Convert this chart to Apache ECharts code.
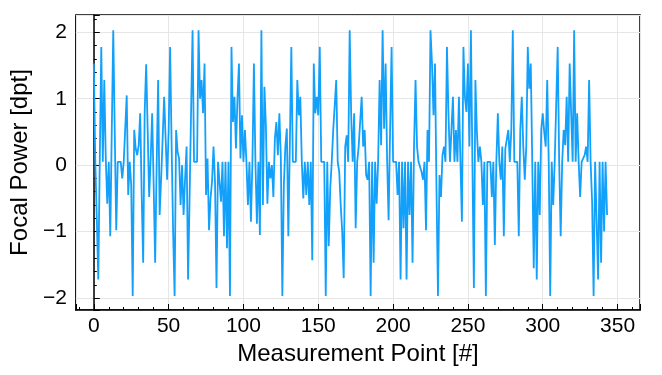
<!DOCTYPE html>
<html>
<head>
<meta charset="utf-8">
<script src="https://cdn.jsdelivr.net/npm/echarts@6/dist/echarts.min.js"></script>
<style>
  html, body { margin: 0; padding: 0; background: #fff; }
  #chart { width: 662px; height: 375px; }
</style>
</head>
<body>
<div id="chart"></div>
<script>
// focal power per measurement point (index = point number)
const focalPower = [
  1.53, 0.05, -0.8, -1.72, 0.1, 1.78, 0.05, 1.28, 0.1, -0.58,
  0.05, -1.07, 0.5, 2.03, 0.5, -0.98, 0.05, 0.05, 0.05, -0.2,
  0.05, 0.05, 1.05, -0.45, 0.05, -0.3, -1.97, 0.53, 0.25, 0.15,
  0.3, 0.78, -0.45, -1.47, 0.8, 1.52, 0.53, -0.48, 0.1, 0.78,
  -0.3, -1.47, 0.0, 1.28, -0.75, -0.2, 0.4, 1.03, 0.4, -0.22,
  0.5, 1.78, 0.3, -1.0, -1.97, 0.53, 0.2, 0.1, -0.6, 0.0,
  -0.75, -0.2, 0.28, -1.72, -0.5, 0.8, 2.03, 0.05, 0.05, 0.05,
  2.03, 1.0, 1.28, 0.78, 1.53, -0.45, 0.1, -0.98, -0.5, -0.25,
  0.28, -0.25, -1.85, 0.05, 0.05, -0.55, 0.05, -1.07, 0.05, -1.25,
  0.05, -1.97, 1.78, 0.65, 1.03, 0.25, 1.0, 1.53, 0.1, 0.75,
  0.05, 0.53, 0.05, -0.6, 0.05, -0.85, 0.05, 1.53, 0.05, -0.88,
  0.05, -1.05, 2.03, -0.6, 1.18, 0.6, -0.58, 0.05, -0.2, 0.0,
  -0.48, 0.4, 0.65, 0.15, 0.78, 0.1, -1.97, -0.3, 0.28, 0.55,
  -1.07, 0.3, 1.78, 0.05, 0.05, 0.05, 1.28, 0.75, 1.03, 0.05,
  -0.5, 0.05, -0.45, 0.05, -0.6, 0.05, -1.43, 1.53, 0.78, 1.03,
  0.75, 1.78, 0.05, 0.05, 0.05, -1.97, 0.05, -1.22, -0.35, 0.05,
  0.53, 0.9, 1.28, 0.05, -0.1, -0.6, -1.0, -1.7, 0.28, 0.45,
  0.05, 2.03, 0.75, 0.05, 0.78, -0.95, 0.05, 0.28, 0.28, 1.03,
  0.28, 0.53, -0.15, -0.22, 0.05, -1.97, 0.05, -1.47, 0.05, -0.58,
  0.05, 1.28, 0.3, 2.03, 0.55, 1.53, 0.1, -0.83, 0.53, 1.78,
  0.05, 0.05, 0.05, -0.45, 0.05, -1.72, 0.05, -0.95, 0.05, -1.72,
  0.05, -0.75, 0.05, -1.47, 0.28, 1.28, 0.28, 0.05, 0.05, -0.1,
  -0.22, 0.05, -0.98, 0.53, 0.05, 2.03, 1.53, 0.75, 1.53, -0.35,
  -1.97, -0.15, -0.48, 0.15, 0.28, 0.05, 1.78, 0.78, 0.05, 0.53,
  1.03, 0.05, 0.53, 0.05, 1.03, 0.05, -0.85, 1.78, 1.03, 0.8,
  1.53, 0.28, 2.03, 0.05, -1.85, 1.28, 0.5, 0.05, 0.28, 0.05,
  -0.6, 0.05, -1.97, 0.05, 0.05, 0.05, -0.48, 0.05, -1.2, 0.05,
  0.78, 0.05, -0.22, 0.28, -1.07, 0.25, 0.28, 0.53, 0.05, 0.53,
  2.03, 0.05, 0.05, 0.05, -1.07, 0.53, 1.03, 0.28, -0.22, 0.28,
  1.78, 1.15, 1.53, 0.05, -1.55, 0.05, -1.72, 0.05, -0.75, 0.53,
  0.78, 0.5, 0.28, 1.28, 0.05, -1.97, 0.05, -0.6, 0.05, 0.05,
  1.78, 0.05, -1.07, 0.05, 0.53, 0.3, 1.03, 0.05, 1.53, 0.78,
  0.05, 2.03, 0.05, 0.78, 0.05, -0.48, 0.05, 0.05, 0.15, 0.28,
  0.05, 1.28, 0.05, -0.55, -1.97, 0.05, 0.05, -1.72, 0.05, -1.47,
  0.05, -1.0, 0.05, -0.75
]

const xName = 'Measurement Point [#]'
const yName = 'Focal Power [dpt]'

let chart = echarts.init(document.getElementById('chart'), null, { renderer: 'canvas' })

const font = 'Liberation Sans, Arial, sans-serif'
const minus = v => String(v).replace('-', '\u2212')

chart.setOption({
  animation: false,
  grid: {
    left: 75,
    right: 22,
    top: 15,
    bottom: 65,
    show: true,
    borderColor: '#000',
    borderWidth: 1.5,
    backgroundColor: 'transparent',
  },
  xAxis: {
    type: 'value',
    min: -12,
    max: 365,
    splitNumber: 7,
    name: xName,
    nameLocation: 'middle',
    nameGap: 25,
    nameTextStyle: { fontFamily: font, fontSize: 24, color: '#000' },
    axisLine: { show: true, onZero: false, lineStyle: { color: '#000', width: 1.5 } },
    axisTick: { show: true, inside: true, length: 6, lineStyle: { color: '#000' } },
    minorTick: { show: true, splitNumber: 5, length: 3, lineStyle: { color: '#000' } },
    axisLabel: {
      fontFamily: font, fontSize: 21, color: '#000', margin: 6,
      showMinLabel: false, showMaxLabel: false,
    },
    splitLine: { show: true, lineStyle: { color: '#e6e6e6', width: 1 } },
  },
  yAxis: {
    type: 'value',
    min: -2.18,
    max: 2.26,
    splitNumber: 4,
    name: yName,
    nameLocation: 'middle',
    nameGap: 36,
    nameTextStyle: { fontFamily: font, fontSize: 24, color: '#000' },
    axisLine: { show: true, lineStyle: { color: '#000', width: 1.5 } },
    axisTick: { show: true, inside: true, length: 6, lineStyle: { color: '#000' } },
    minorTick: { show: true, splitNumber: 5, length: 3, lineStyle: { color: '#000' } },
    axisLabel: {
      fontFamily: font, fontSize: 21, color: '#000', margin: 9,
      showMinLabel: false, showMaxLabel: false,
      formatter: v => minus(v),
    },
    splitLine: { show: true, lineStyle: { color: '#e6e6e6', width: 1 } },
  },
  series: [
    {
      type: 'line',
      data: focalPower.map((v, i) => [i, v]),
      showSymbol: false,
      lineStyle: { color: '#12a0fb', width: 1.8 },
    },
  ],
})
</script>
</body>
</html>
